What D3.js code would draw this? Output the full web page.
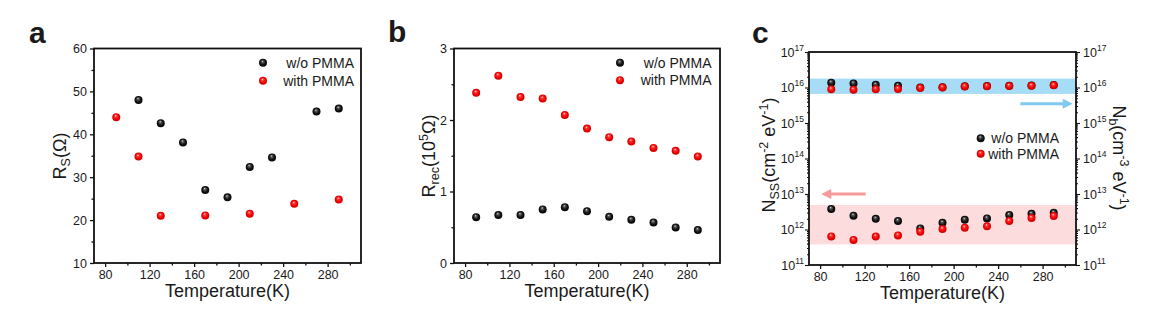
<!DOCTYPE html>
<html><head><meta charset="utf-8">
<script src="https://cdn.jsdelivr.net/npm/d3@7"></script>
<style>
body{margin:0;background:#fff}
svg{display:block}
text{font-family:"Liberation Sans",Arial,sans-serif;fill:#1a1a1a}
</style>
</head><body><svg id="chart" width="1154" height="321"></svg>
<script>
// ---------- data ----------
const temps = [90,110,130,150,170,190,210,230,250,270,290];
const xTickVals = [80,120,160,200,240,280];
const xMinorVals = [100,140,180,220,260,300];
const seriesNames = ["w/o PMMA","with PMMA"];

// panel a : Rs (Ohm)
const rsWoT = [110,130,150,170,190,210,230,270,290];
const rsWo  = [48.0,42.6,38.1,27.0,25.3,32.4,34.6,45.3,46.0];
const rsWithT = [90,110,130,170,210,250,290];
const rsWith  = [44.0,34.8,21.0,21.1,21.5,23.8,24.8];
const rsTicks = [10,20,30,40,50,60];
const rsMinor = [15,25,35,45,55];

// panel b : Rrec (1e5 Ohm)
const rrecWo   = [0.64,0.67,0.67,0.75,0.78,0.725,0.646,0.605,0.567,0.497,0.46];
const rrecWith = [2.38,2.62,2.32,2.30,2.07,1.88,1.76,1.70,1.61,1.57,1.49];
const rrecTicks = [0,1,2,3];
const rrecMinor = [0.5,1.5,2.5];

// panel c : Nb (top) and Nss (bottom)
const nbWo    = [1.37e16,1.30e16,1.20e16,1.12e16,1.0e16,1.02e16,1.09e16,1.10e16,1.12e16,1.14e16,1.17e16];
const nbWith  = [8.9e15,8.7e15,8.9e15,9.1e15,9.7e15,1.0e16,1.07e16,1.08e16,1.10e16,1.12e16,1.15e16];
const nssWo   = [3.76e12,2.44e12,2.0e12,1.73e12,1.07e12,1.55e12,1.88e12,2.05e12,2.55e12,2.76e12,2.95e12];
const nssWith = [6.4e11,5.1e11,6.4e11,6.8e11,8.65e11,1.03e12,1.12e12,1.23e12,1.73e12,2.1e12,2.4e12];
const logExps = [11,12,13,14,15,16,17];
const bandNb  = [6.6e15,1.78e16];
const bandNss = [3.8e11,4.9e12];
const arrowNss = {t0:121, t1:81, v:1e13};
const arrowNb  = {t0:260, t1:307, v:3.5e15};

// ---------- drawing ----------
const svg = d3.select("#chart");
const defs = svg.append("defs");
function grad(id, stops){
  const g = defs.append("radialGradient").attr("id",id)
    .attr("cx","0.5").attr("cy","0.5").attr("r","0.55").attr("fx","0.42").attr("fy","0.3");
  stops.forEach(s=>g.append("stop").attr("offset",s[0]).attr("stop-color",s[1]));
}
grad("gBlack",[[0,"#e6e6e6"],[0.22,"#5a5a5a"],[0.6,"#141414"],[1,"#000"]]);
grad("gRed",[[0,"#ffe6e6"],[0.25,"#ff3a3a"],[0.65,"#f00000"],[1,"#c00000"]]);
const fills = ["url(#gBlack)","url(#gRed)"];
const R = 4;

function frame(x, y){
  const [x0,x1] = x.range(), [y0,y1] = y.range();
  svg.append("rect").attr("x",x0).attr("y",y1).attr("width",x1-x0).attr("height",y0-y1)
    .attr("fill","none").attr("stroke","#111").attr("stroke-width",1.8);
}
function xAxis(x, y){
  const y0 = y.range()[0];
  const g = svg.append("g").attr("transform",`translate(0,${y0})`);
  g.call(d3.axisBottom(x).tickValues(xTickVals).tickSize(4).tickSizeOuter(0).tickPadding(3));
  g.append("g").call(d3.axisBottom(x).tickValues(xMinorVals).tickSize(2.5).tickSizeOuter(0).tickFormat(""));
  g.selectAll(".domain").remove();
  g.selectAll("line").attr("stroke","#111").attr("stroke-width",1.3);
  g.selectAll("text").attr("font-size",12.5).attr("fill","#1a1a1a")
    .attr("font-family",'"Liberation Sans",Arial,sans-serif');
  const [a,b] = x.range();
  svg.append("text").attr("x",(a+b)/2).attr("y",y0+34).attr("text-anchor","middle")
    .attr("font-size",18).text("Temperature(K)");
}
function yAxisLin(x, y, major, minor){
  const x0 = x.range()[0];
  const g = svg.append("g").attr("transform",`translate(${x0},0)`);
  g.call(d3.axisLeft(y).tickValues(major).tickSize(4).tickSizeOuter(0).tickPadding(3).tickFormat(d3.format("d")));
  g.append("g").call(d3.axisLeft(y).tickValues(minor).tickSize(2.5).tickSizeOuter(0).tickFormat(""));
  g.selectAll(".domain").remove();
  g.selectAll("line").attr("stroke","#111").attr("stroke-width",1.3);
  g.selectAll("text").attr("font-size",12.5).attr("fill","#1a1a1a")
    .attr("font-family",'"Liberation Sans",Arial,sans-serif');
}
function dots(x, y, ts, vs, k){
  svg.append("g").selectAll("circle").data(vs).join("circle")
    .attr("cx",(d,i)=>x(ts[i])).attr("cy",d=>y(d)).attr("r",R).attr("fill",fills[k]);
}
function legend(cx, cy, xEnd, gap){
  seriesNames.forEach((n,i)=>{
    svg.append("circle").attr("cx",cx).attr("cy",cy+i*gap).attr("r",R).attr("fill",fills[i]);
    svg.append("text").attr("x",xEnd).attr("y",cy+i*gap+5).attr("text-anchor","end")
      .attr("font-size",14).text(n);
  });
}
function panelLetter(t, x, y){
  svg.append("text").attr("x",x).attr("y",y).attr("font-size",30).attr("font-weight","bold")
    .attr("fill","#111").text(t);
}
function rotTitle(x, y, rot, parts){
  const t = svg.append("text").attr("transform",`translate(${x},${y}) rotate(${rot})`)
    .attr("text-anchor","middle").attr("font-size",18);
  parts.forEach(p=>{
    const s = t.append("tspan").text(p[0]);
    if(p[1]==="sub"){ s.attr("font-size",12.5).attr("dy",4); }
    else if(p[1]==="sup"){ s.attr("font-size",12.5).attr("dy",-7); }
    if(p[2]) s.attr("dy",p[2]);
  });
}

// ----- panel a -----
{
  const x = d3.scaleLinear().domain([70,310]).range([94,361]);
  const y = d3.scaleLinear().domain([10,60]).range([263,48.5]);
  xAxis(x,y); yAxisLin(x,y,rsTicks,rsMinor); frame(x,y);
  dots(x,y,rsWoT,rsWo,0); dots(x,y,rsWithT,rsWith,1);
  legend(263,62.7,354,18);
  panelLetter("a",29,43);
  rotTitle(66,156,-90,[["R"],["S","sub"],["(Ω)",null,-4]]);
}
// ----- panel b -----
{
  const x = d3.scaleLinear().domain([70,310]).range([454,720]);
  const y = d3.scaleLinear().domain([0,3]).range([263,48.5]);
  xAxis(x,y); yAxisLin(x,y,rrecTicks,rrecMinor); frame(x,y);
  dots(x,y,temps,rrecWo,0); dots(x,y,temps,rrecWith,1);
  legend(620,62.7,711.5,17.5);
  panelLetter("b",388,42);
  rotTitle(435,156,-90,[["R"],["rec","sub"],["(10",null,-4],["5","sup"],["Ω)",null,7]]);
}
// ----- panel c -----
{
  const x = d3.scaleLinear().domain([70,310]).range([809,1076]);
  const y = d3.scaleLog().domain([1e11,1e17]).range([265,52]);
  const [x0,x1] = x.range();
  // bands
  [[bandNb,"#a6dcf5"],[bandNss,"#fcdcdc"]].forEach(b=>{
    svg.append("rect").attr("x",x0).attr("width",x1-x0)
      .attr("y",y(b[0][1])).attr("height",y(b[0][0])-y(b[0][1])).attr("fill",b[1]);
  });
  xAxis(x,y);
  // log axes left and right
  const minor = [];
  for(let e=11;e<17;e++) for(let k=2;k<=9;k++) minor.push(k*Math.pow(10,e));
  const majors = logExps.map(e=>Math.pow(10,e));
  [["L",x0,d3.axisLeft],["R",x1,d3.axisRight]].forEach(([side,xp,ax])=>{
    const g = svg.append("g").attr("transform",`translate(${xp},0)`);
    g.call(ax(y).tickValues(majors).tickSize(4).tickSizeOuter(0).tickFormat(""));
    g.append("g").call(ax(y).tickValues(minor).tickSize(2).tickSizeOuter(0).tickFormat(""));
    g.selectAll(".domain").remove();
    g.selectAll("line").attr("stroke","#111").attr("stroke-width",1.1);
    logExps.forEach(e=>{
      const t = svg.append("text").attr("y",y(Math.pow(10,e))+4.5).attr("font-size",12.5)
        .attr("x", side==="L" ? xp-5 : xp+7).attr("text-anchor", side==="L" ? "end" : "start");
      t.append("tspan").text("10");
      t.append("tspan").attr("font-size",8.5).attr("dy",-6).text(e);
    });
  });
  frame(x,y);
  dots(x,y,temps,nbWo,0); dots(x,y,temps,nbWith,1);
  dots(x,y,temps,nssWo,0); dots(x,y,temps,nssWith,1);
  // arrows
  function arrow(a, col){
    const yy = y(a.v), xa = x(a.t0), xb = x(a.t1);
    const dir = Math.sign(xb-xa);
    svg.append("line").attr("x1",xa).attr("x2",xb-dir*7).attr("y1",yy).attr("y2",yy)
      .attr("stroke",col).attr("stroke-width",3);
    svg.append("path").attr("d",`M${xb},${yy} L${xb-dir*10},${yy-5} L${xb-dir*10},${yy+5} Z`).attr("fill",col);
  }
  arrow(arrowNss,"#f59a9a");
  arrow(arrowNb,"#7fc9f0");
  legend(980.7,138.3,1059,15.4);
  panelLetter("c",752,43);
  rotTitle(775,155,-90,[["N"],["SS","sub"],["(cm",null,-4],["-2","sup"],[" eV",null,7],["-1","sup"],[")",null,7]]);
  rotTitle(1113,158,90,[["N"],["b","sub"],["(cm",null,-4],["-3","sup"],[" eV",null,7],["-1","sup"],[")",null,7]]);
}
</script>
</body></html>
